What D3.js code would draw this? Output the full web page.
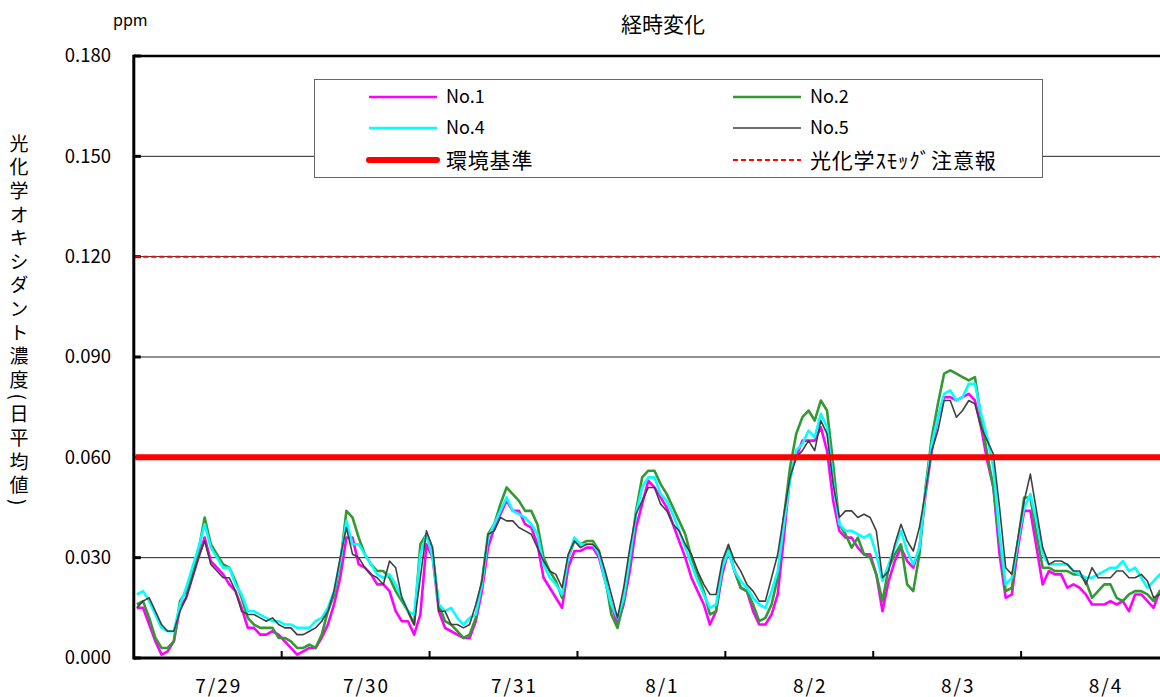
<!DOCTYPE html>
<html>
<head>
<meta charset="utf-8">
<script src="https://cdn.jsdelivr.net/npm/d3@7"></script>
<style>
  body { margin: 0; background: #fff; }
  svg { display: block; }
  text { font-family: "Noto Sans CJK JP", "Liberation Sans", sans-serif; fill: #000; }
</style>
</head>
<body>
<svg id="chart" width="1160" height="697"></svg>
<script>
// Day labels (24 hourly readings per day)
const dayLabels = ["7/29", "7/30", "7/31", "8/1", "8/2", "8/3", "8/4"];

// Hourly photochemical oxidant concentration (ppm) at each station
const no1 = [
  .015,.015,.010,.005,.001,.002,.005,.015,.018,.024,.030,.036,.029,.027,.025,.022,.020,.015,.009,.009,.007,.007,.008,.007,
  .005,.003,.001,.002,.003,.003,.006,.010,.016,.024,.036,.036,.028,.027,.025,.022,.022,.020,.014,.011,.011,.007,.013,.034,
  .030,.014,.009,.008,.007,.006,.006,.011,.020,.033,.039,.043,.047,.044,.044,.040,.039,.034,.024,.021,.018,.015,.027,.032,
  .032,.033,.033,.030,.023,.016,.010,.016,.026,.039,.046,.053,.051,.048,.045,.040,.035,.030,.024,.020,.016,.010,.014,.025,
  .032,.026,.021,.020,.014,.010,.010,.013,.019,.036,.055,.060,.065,.065,.065,.069,.062,.047,.038,.036,.036,.033,.031,.031,
  .025,.014,.023,.029,.033,.029,.027,.033,.049,.062,.072,.078,.078,.077,.078,.079,.077,.069,.059,.051,.031,.018,.019,.033,
  .044,.044,.033,.022,.026,.025,.025,.021,.022,.021,.019,.016,.016,.016,.017,.016,.017,.014,.019,.019,.017,.015,.020,.020
];
const no2 = [
  .016,.017,.012,.006,.003,.003,.005,.017,.020,.026,.032,.042,.034,.031,.028,.027,.023,.018,.012,.010,.009,.009,.009,.006,
  .006,.005,.003,.003,.004,.003,.007,.014,.019,.028,.044,.042,.036,.031,.028,.026,.026,.024,.020,.017,.014,.010,.034,.037,
  .031,.016,.011,.010,.008,.006,.007,.012,.023,.037,.040,.046,.051,.049,.047,.044,.044,.040,.030,.026,.023,.018,.030,.035,
  .034,.035,.035,.032,.024,.013,.009,.017,.029,.044,.054,.056,.056,.052,.049,.045,.041,.037,.030,.025,.020,.013,.014,.027,
  .033,.026,.021,.020,.016,.011,.012,.016,.024,.042,.057,.067,.072,.074,.071,.077,.074,.058,.040,.037,.033,.036,.031,.030,
  .025,.017,.027,.031,.034,.022,.020,.031,.051,.066,.076,.085,.086,.085,.084,.083,.084,.072,.061,.051,.035,.020,.021,.035,
  .048,.048,.037,.027,.027,.026,.026,.026,.025,.025,.023,.018,.020,.022,.022,.018,.017,.019,.020,.020,.019,.017,.020,.021
];
const no4 = [
  .019,.020,.017,.013,.009,.008,.008,.016,.021,.027,.033,.040,.033,.030,.027,.027,.022,.019,.014,.014,.013,.012,.011,.011,
  .010,.010,.009,.009,.009,.011,.012,.015,.020,.029,.041,.034,.034,.031,.028,.025,.024,.025,.022,.018,.014,.013,.031,.037,
  .030,.016,.014,.015,.012,.010,.012,.013,.022,.036,.040,.044,.048,.044,.043,.042,.040,.037,.028,.024,.022,.019,.030,.036,
  .034,.034,.034,.031,.023,.016,.012,.018,.030,.043,.051,.054,.054,.049,.047,.043,.038,.033,.028,.023,.019,.015,.016,.027,
  .032,.026,.023,.021,.018,.016,.015,.020,.026,.040,.053,.062,.064,.068,.066,.073,.069,.053,.040,.038,.038,.037,.036,.037,
  .031,.023,.028,.033,.038,.032,.028,.033,.050,.064,.072,.079,.080,.077,.078,.082,.082,.073,.066,.057,.037,.022,.024,.035,
  .045,.049,.041,.031,.028,.028,.028,.028,.026,.025,.024,.024,.025,.026,.027,.027,.029,.026,.027,.024,.021,.023,.025,.026
];
const no5 = [
  .015,.017,.018,.014,.010,.008,.008,.014,.018,.024,.030,.035,.028,.026,.024,.024,.020,.014,.013,.013,.012,.011,.012,.010,
  .009,.009,.007,.007,.008,.009,.011,.014,.020,.030,.039,.031,.030,.027,.025,.024,.022,.029,.027,.018,.014,.010,.024,.038,
  .033,.014,.014,.010,.010,.009,.010,.016,.023,.037,.038,.042,.041,.041,.039,.038,.037,.033,.029,.026,.025,.021,.031,.035,
  .033,.034,.034,.032,.026,.019,.012,.021,.033,.043,.047,.051,.051,.046,.044,.040,.038,.034,.031,.026,.022,.019,.019,.029,
  .034,.029,.026,.022,.020,.017,.017,.024,.031,.043,.054,.060,.062,.065,.062,.071,.067,.052,.042,.044,.044,.042,.043,.042,
  .038,.024,.026,.034,.040,.035,.032,.039,.050,.062,.068,.077,.077,.072,.074,.077,.076,.069,.065,.061,.045,.027,.025,.036,
  .047,.055,.044,.033,.028,.029,.029,.028,.026,.026,.022,.027,.024,.024,.024,.026,.026,.024,.024,.025,.023,.018,.019,.019
];

// Reference levels (ppm)
const envStandard = 0.060;   // 環境基準
const smogWarning = 0.120;   // 光化学スモッグ注意報

// Y axis ticks
const yTicks = [0.000, 0.030, 0.060, 0.090, 0.120, 0.150, 0.180];

const hoursPerDay = 24;
const nHours = dayLabels.length * hoursPerDay;

const series = [
  { name: "No.1", values: no1, color: "#ff00ff", width: 2.6 },
  { name: "No.2", values: no2, color: "#339933", width: 2.6 },
  { name: "No.4", values: no4, color: "#00ffff", width: 2.6 },
  { name: "No.5", values: no5, color: "#404040", width: 1.6 }
];

const svg = d3.select("#chart");
const plot = { left: 133.8, right: 1169, top: 56, bottom: 658 };

const x = d3.scaleLinear().domain([0, nHours]).range([plot.left, plot.right]);
const y = d3.scaleLinear().domain([0, 0.18]).range([plot.bottom, plot.top]);

// Horizontal gridlines
svg.append("g")
  .selectAll("line")
  .data(yTicks.filter(v => v > 0 && v < 0.18))
  .join("line")
  .attr("x1", plot.left).attr("x2", plot.right)
  .attr("y1", d => y(d)).attr("y2", d => y(d))
  .attr("stroke", "#222").attr("stroke-width", 1);

// Legend box (sits over the gridline)
const legend = svg.append("g");
legend.append("rect")
  .attr("x", 314.5).attr("y", 79.5).attr("width", 728).attr("height", 98)
  .attr("fill", "#fff").attr("stroke", "#666").attr("stroke-width", 1);

// Frame: top, left, bottom
svg.append("line")
  .attr("x1", plot.left).attr("x2", plot.right)
  .attr("y1", plot.top).attr("y2", plot.top)
  .attr("stroke", "#000").attr("stroke-width", 2.5);
svg.append("line")
  .attr("x1", plot.left).attr("x2", plot.left)
  .attr("y1", plot.top - 1.2).attr("y2", plot.bottom + 1.5)
  .attr("stroke", "#000").attr("stroke-width", 3);
svg.append("line")
  .attr("x1", plot.left).attr("x2", plot.right)
  .attr("y1", plot.bottom).attr("y2", plot.bottom)
  .attr("stroke", "#000").attr("stroke-width", 3);

// Y ticks (inside) and labels
const yAxis = svg.append("g");
yAxis.selectAll("line")
  .data(yTicks)
  .join("line")
  .attr("x1", plot.left).attr("x2", plot.left + 7)
  .attr("y1", d => y(d)).attr("y2", d => y(d))
  .attr("stroke", "#000").attr("stroke-width", 3);
yAxis.selectAll("text")
  .data(yTicks)
  .join("text")
  .attr("x", 111)
  .attr("y", d => y(d))
  .attr("dy", "0.35em")
  .attr("text-anchor", "end")
  .attr("font-size", 18.5)
  .text(d => d3.format(".3f")(d));

// X ticks at day boundaries (inside) and day labels
const dayStarts = d3.range(1, dayLabels.length).map(k => k * hoursPerDay);
svg.append("g").selectAll("line")
  .data(dayStarts)
  .join("line")
  .attr("x1", d => x(d)).attr("x2", d => x(d))
  .attr("y1", plot.bottom).attr("y2", plot.bottom - 7)
  .attr("stroke", "#000").attr("stroke-width", 2);
svg.append("g").selectAll("text")
  .data(dayLabels)
  .join("text")
  .attr("x", (d, i) => x(i * hoursPerDay + hoursPerDay / 2) + 11)
  .attr("y", 693)
  .attr("text-anchor", "middle")
  .attr("font-size", 19)
  .attr("letter-spacing", 2)
  .text(d => d);

// Station lines
const line = d3.line()
  .x((d, i) => x(i + 0.5))
  .y(d => y(d));
svg.append("g").selectAll("path")
  .data(series)
  .join("path")
  .attr("d", s => line(s.values))
  .attr("fill", "none")
  .attr("stroke", s => s.color)
  .attr("stroke-width", s => s.width)
  .attr("stroke-linejoin", "round");

// Reference lines
svg.append("line")
  .attr("x1", plot.left + 1.5).attr("x2", plot.right)
  .attr("y1", y(envStandard)).attr("y2", y(envStandard))
  .attr("stroke", "#ff0000").attr("stroke-width", 6);
svg.append("line")
  .attr("x1", plot.left + 1.5).attr("x2", plot.right)
  .attr("y1", y(smogWarning)).attr("y2", y(smogWarning))
  .attr("stroke", "#ff0000").attr("stroke-width", 2)
  .attr("stroke-dasharray", "5,3");

// Legend entries
const legendItems = [
  { label: "No.1", color: "#ff00ff", width: 2.6, dash: null, col: 0, row: 0, size: 18 },
  { label: "No.2", color: "#339933", width: 2.6, dash: null, col: 1, row: 0, size: 18 },
  { label: "No.4", color: "#00ffff", width: 2.6, dash: null, col: 0, row: 1, size: 18 },
  { label: "No.5", color: "#404040", width: 1.6, dash: null, col: 1, row: 1, size: 18 },
  { label: "環境基準", color: "#ff0000", width: 6, dash: null, col: 0, row: 2, size: 21 },
  { label: "光化学ｽﾓｯｸﾞ注意報", color: "#ff0000", width: 2, dash: "5,3", col: 1, row: 2, size: 21 }
];
const colX = [369, 733];
const rowY = [97, 128, 160];
const item = legend.selectAll("g.item")
  .data(legendItems)
  .join("g")
  .attr("class", "item")
  .attr("transform", d => `translate(${colX[d.col]},${rowY[d.row]})`);
item.append("line")
  .attr("x1", 0).attr("x2", 68)
  .attr("stroke", d => d.color)
  .attr("stroke-width", d => d.width)
  .attr("stroke-dasharray", d => d.dash)
  .attr("stroke-linecap", d => d.width > 4 ? "round" : "butt");
item.append("text")
  .attr("x", 77)
  .attr("dy", "0.36em")
  .attr("font-size", d => d.size)
  .attr("letter-spacing", d => d.size > 20 ? 0.8 : 0)
  .text(d => d.label);

// Title and unit
svg.append("text")
  .attr("x", 663).attr("y", 32)
  .attr("text-anchor", "middle")
  .attr("font-size", 21)
  .text("経時変化");
svg.append("text")
  .attr("x", 113).attr("y", 26)
  .attr("font-size", 16)
  .text("ppm");

// Vertical y-axis title
svg.append("text")
  .attr("x", 19).attr("y", 134)
  .style("writing-mode", "vertical-rl")
  .attr("font-size", 19)
  .attr("letter-spacing", 4.6)
  .text("光化学オキシダント濃度(日平均値)");
</script>
</body>
</html>
